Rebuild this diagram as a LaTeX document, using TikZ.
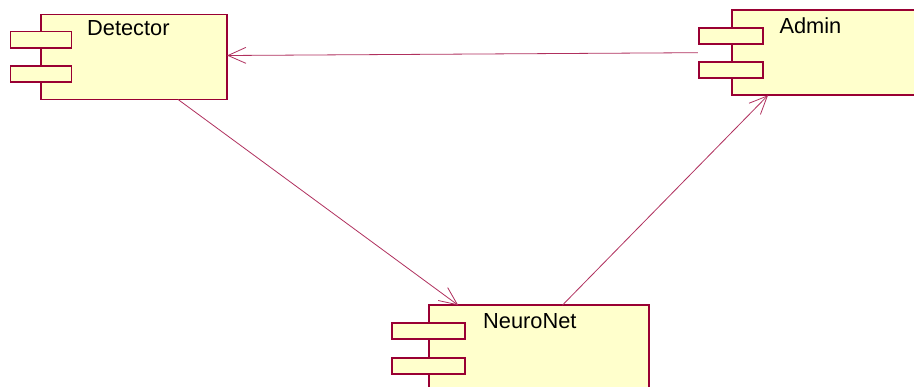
\documentclass[tikz,border=0pt]{standalone}
\usepackage{fontspec}
\setmainfont{Liberation Sans}
\usetikzlibrary{arrows.meta,calc}
\definecolor{compborder}{HTML}{990033}
\definecolor{compfill}{HTML}{FFFFCC}
\definecolor{linkcol}{HTML}{B0305E}
\tikzset{
  x=1pt, y=-1pt,
  compbody/.style={draw=compborder, fill=compfill, line width=1.8pt, inner sep=0pt, outer sep=0pt},
  compopen/.style={fill=compfill, inner sep=0pt, outer sep=0pt},
  compedge/.style={draw=compborder, line width=1.8pt},
  comptab/.style={draw=compborder, fill=compfill, line width=1.8pt, inner sep=0pt, outer sep=0pt},
  complabel/.style={anchor=base west, inner sep=0pt, font=\fontsize{21.8}{26}\selectfont},
  link/.style={draw=linkcol, line width=0.8pt, -{Straight Barb[length=18pt, width=16pt]}}
}
\begin{document}
\begin{tikzpicture}
\useasboundingbox (0,0) rectangle (914,387);
\fill[white] (0,0) rectangle (914,387);

% Detector component
\node[compbody, minimum width=186pt, minimum height=85pt, anchor=north west] (det) at (41,14.5) {};
\node[comptab, minimum width=61pt, minimum height=16.5pt, anchor=north west] (dettab1) at (10.5,31.5) {};
\node[comptab, minimum width=61pt, minimum height=16pt, anchor=north west] (dettab2) at (10.5,66.3) {};
\node[complabel] (detlbl) at (87,36) {Detector};

% Admin component, open to the right: body filled, then three sides stroked
\node[compopen, minimum width=190pt, minimum height=85pt, anchor=north west] (adm) at (731.7,10.3) {};
\draw[compedge] (adm.north east) -- (adm.north west) -- (adm.south west) -- (adm.south east);
\node[comptab, minimum width=63.5pt, minimum height=16pt, anchor=north west] (admtab1) at (699.3,27.7) {};
\node[comptab, minimum width=63.5pt, minimum height=16pt, anchor=north west] (admtab2) at (699.3,61.7) {};
\node[complabel] (admlbl) at (779.3,33.3) {Admin};

% NeuroNet component, open at the bottom
\node[compopen, minimum width=219.4pt, minimum height=90pt, anchor=north west] (nn) at (429.3,305.3) {};
\draw[compedge] (nn.south west) -- (nn.north west) -- (nn.north east) -- (nn.south east);
\node[comptab, minimum width=73pt, minimum height=16.6pt, anchor=north west] (nntab1) at (392.3,322.7) {};
\node[comptab, minimum width=73pt, minimum height=16pt, anchor=north west] (nntab2) at (392.3,357.7) {};
\node[complabel] (nnlbl) at (483,328.3) {NeuroNet};

% Connector end points on the component borders
\coordinate (admout) at ($(admtab1.west)!0.5!(admtab2.west)+(-1.5,0)$);
\coordinate (detin) at ($(det.north east)+(0,41)$);
\coordinate (detout) at ($(det.south west)!0.737!(det.south east)$);
\coordinate (nnin) at ($(nn.north west)!0.132!(nn.north east)$);
\coordinate (nnout) at ($(nn.north west)+(133,0)$);
\coordinate (admin) at ($(adm.south west)+(36.3,0)$);

% Dependencies
\draw[link] (admout) -- (detin);
\draw[link] (detout) -- (nnin);
\draw[link] (nnout) -- (admin);
\end{tikzpicture}
\end{document}
